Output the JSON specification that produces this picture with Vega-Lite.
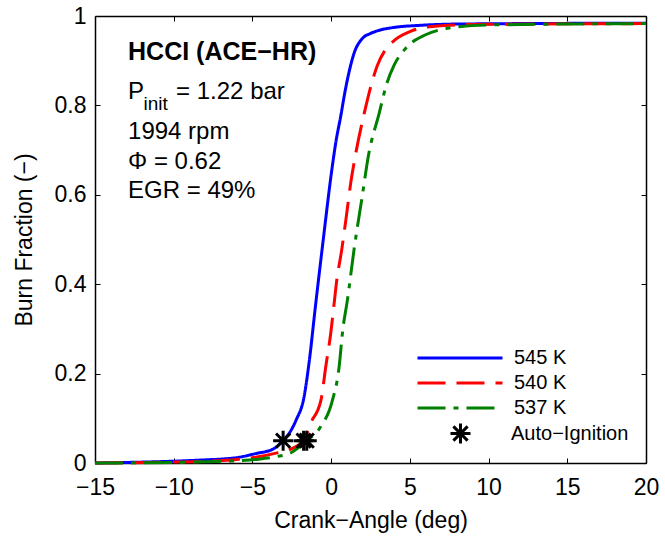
{
  "$schema": "https://vega.github.io/schema/vega-lite/v6.json",
  "width": 551,
  "height": 447,
  "autosize": "none",
  "padding": {"left": 95, "top": 16, "right": 19, "bottom": 77},
  "background": "white",
  "config": {
    "view": {"stroke": null},
    "font": "Liberation Sans",
    "axis": {
      "domainColor": "black",
      "domainWidth": 1.5,
      "tickColor": "black",
      "tickWidth": 1,
      "tickSize": -5,
      "grid": false,
      "labelFont": "Liberation Sans",
      "labelFontSize": 23,
      "labelColor": "black",
      "titleFont": "Liberation Sans",
      "titleFontSize": 23,
      "titleFontWeight": "normal",
      "titleColor": "black",
      "labelFlush": false,
      "labelOverlap": false
    },
    "legend": {
      "labelFont": "Liberation Sans",
      "labelFontSize": 20,
      "labelColor": "black",
      "padding": 0
    }
  },
  "datasets": {
    "curves": [
      {"series": "545 K", "x": -15, "y": 0.0},
      {"series": "545 K", "x": -12, "y": 0.002},
      {"series": "545 K", "x": -10, "y": 0.004},
      {"series": "545 K", "x": -8, "y": 0.007},
      {"series": "545 K", "x": -6.9, "y": 0.009},
      {"series": "545 K", "x": -6, "y": 0.012},
      {"series": "545 K", "x": -4.8, "y": 0.021},
      {"series": "545 K", "x": -3.7, "y": 0.031},
      {"series": "545 K", "x": -3.05, "y": 0.05},
      {"series": "545 K", "x": -2.6, "y": 0.07},
      {"series": "545 K", "x": -2.24, "y": 0.095},
      {"series": "545 K", "x": -1.71, "y": 0.15},
      {"series": "545 K", "x": -1.4, "y": 0.225},
      {"series": "545 K", "x": -1.0, "y": 0.35},
      {"series": "545 K", "x": -0.5, "y": 0.5},
      {"series": "545 K", "x": 0.04, "y": 0.655},
      {"series": "545 K", "x": 0.3, "y": 0.718},
      {"series": "545 K", "x": 0.62, "y": 0.778},
      {"series": "545 K", "x": 0.85, "y": 0.825},
      {"series": "545 K", "x": 1.14, "y": 0.875},
      {"series": "545 K", "x": 1.46, "y": 0.917},
      {"series": "545 K", "x": 1.99, "y": 0.95},
      {"series": "545 K", "x": 2.5, "y": 0.961},
      {"series": "545 K", "x": 3.05, "y": 0.968},
      {"series": "545 K", "x": 3.9, "y": 0.974},
      {"series": "545 K", "x": 5.6, "y": 0.979},
      {"series": "545 K", "x": 8, "y": 0.982},
      {"series": "545 K", "x": 20, "y": 0.984},
      {"series": "540 K", "x": -15, "y": 0.0},
      {"series": "540 K", "x": -10, "y": 0.002},
      {"series": "540 K", "x": -8, "y": 0.004},
      {"series": "540 K", "x": -6, "y": 0.008},
      {"series": "540 K", "x": -4.8, "y": 0.013},
      {"series": "540 K", "x": -3.5, "y": 0.022},
      {"series": "540 K", "x": -2.5, "y": 0.032},
      {"series": "540 K", "x": -1.75, "y": 0.05},
      {"series": "540 K", "x": -1.29, "y": 0.09},
      {"series": "540 K", "x": -0.65, "y": 0.14},
      {"series": "540 K", "x": -0.34, "y": 0.216},
      {"series": "540 K", "x": -0.02, "y": 0.292},
      {"series": "540 K", "x": 0.2, "y": 0.36},
      {"series": "540 K", "x": 0.34, "y": 0.404},
      {"series": "540 K", "x": 0.68, "y": 0.479},
      {"series": "540 K", "x": 0.97, "y": 0.553},
      {"series": "540 K", "x": 1.25, "y": 0.628},
      {"series": "540 K", "x": 1.55, "y": 0.69},
      {"series": "540 K", "x": 2.1, "y": 0.782},
      {"series": "540 K", "x": 2.5, "y": 0.84},
      {"series": "540 K", "x": 2.94, "y": 0.89},
      {"series": "540 K", "x": 3.4, "y": 0.922},
      {"series": "540 K", "x": 4.0, "y": 0.945},
      {"series": "540 K", "x": 5.0, "y": 0.965},
      {"series": "540 K", "x": 6.0, "y": 0.975},
      {"series": "540 K", "x": 9, "y": 0.981},
      {"series": "540 K", "x": 20, "y": 0.983},
      {"series": "537 K", "x": -15, "y": 0.0},
      {"series": "537 K", "x": -10, "y": 0.001},
      {"series": "537 K", "x": -8, "y": 0.003},
      {"series": "537 K", "x": -6, "y": 0.005},
      {"series": "537 K", "x": -4.8, "y": 0.008},
      {"series": "537 K", "x": -3.5, "y": 0.014},
      {"series": "537 K", "x": -2.5, "y": 0.024},
      {"series": "537 K", "x": -1.55, "y": 0.05},
      {"series": "537 K", "x": -0.65, "y": 0.082},
      {"series": "537 K", "x": 0.08, "y": 0.14},
      {"series": "537 K", "x": 0.51, "y": 0.216},
      {"series": "537 K", "x": 0.72, "y": 0.292},
      {"series": "537 K", "x": 1.04, "y": 0.366},
      {"series": "537 K", "x": 1.46, "y": 0.479},
      {"series": "537 K", "x": 1.95, "y": 0.591},
      {"series": "537 K", "x": 2.37, "y": 0.688},
      {"series": "537 K", "x": 3.05, "y": 0.782},
      {"series": "537 K", "x": 3.5, "y": 0.845},
      {"series": "537 K", "x": 4.0, "y": 0.89},
      {"series": "537 K", "x": 4.74, "y": 0.928},
      {"series": "537 K", "x": 6.0, "y": 0.958},
      {"series": "537 K", "x": 7.5, "y": 0.973},
      {"series": "537 K", "x": 10, "y": 0.98},
      {"series": "537 K", "x": 20, "y": 0.983}
    ],
    "ignition": [
      {"series": "545 K", "marker": "Auto−Ignition", "x": -3.05, "y": 0.05},
      {"series": "540 K", "marker": "Auto−Ignition", "x": -1.75, "y": 0.05},
      {"series": "537 K", "marker": "Auto−Ignition", "x": -1.55, "y": 0.05}
    ],
    "one": [{}]
  },
  "layer": [
    {
      "data": {"name": "curves"},
      "mark": {"type": "line", "strokeWidth": 3, "strokeCap": "butt", "interpolate": "monotone"},
      "encoding": {
        "x": {
          "field": "x", "type": "quantitative",
          "scale": {"domain": [-15, 20], "nice": false, "zero": false},
          "axis": {"orient": "bottom", "values": [-15, -10, -5, 0, 5, 10, 15, 20], "title": "Crank−Angle (deg)", "labelPadding": 18, "titlePadding": 10}
        },
        "y": {
          "field": "y", "type": "quantitative",
          "scale": {"domain": [0, 1], "nice": false},
          "axis": {"orient": "left", "values": [0, 0.2, 0.4, 0.6, 0.8, 1], "format": "~g", "title": "Burn Fraction (−)", "labelPadding": 14, "titlePadding": 18}
        },
        "color": {
          "field": "series", "type": "nominal",
          "scale": {"domain": ["545 K", "540 K", "537 K"], "range": ["#0000ff", "#ff0000", "#008000"]},
          "legend": {
            "title": null, "orient": "none", "legendX": 355, "legendY": 332,
            "symbolType": "M-8.5,0L8.5,0", "symbolSize": 100, "symbolStrokeWidth": 3,
            "labelOffset": 44, "rowPadding": 5
          }
        },
        "strokeDash": {
          "field": "series", "type": "nominal",
          "scale": {"domain": ["545 K", "540 K", "537 K"], "range": [[1, 0], [28, 11], [28, 8, 5, 8]]},
          "legend": {
            "title": null, "orient": "none", "legendX": 355, "legendY": 332,
            "symbolType": "M-8.5,0L8.5,0", "symbolSize": 100, "symbolStrokeWidth": 3,
            "labelOffset": 44, "rowPadding": 5
          }
        }
      }
    },
    {
      "data": {"name": "ignition"},
      "mark": {"type": "point", "filled": false, "stroke": "black", "strokeWidth": 3, "size": 400, "opacity": 1},
      "encoding": {
        "x": {
          "field": "x", "type": "quantitative",
          "axis": {"orient": "top", "values": [-15, -10, -5, 0, 5, 10, 15, 20], "labels": false, "title": null}
        },
        "y": {
          "field": "y", "type": "quantitative",
          "axis": {"orient": "right", "values": [0, 0.2, 0.4, 0.6, 0.8, 1], "labels": false, "title": null}
        },
        "shape": {
          "field": "marker", "type": "nominal",
          "scale": {"range": ["M-1,0L1,0M0,-1L0,1M-0.71,-0.71L0.71,0.71M-0.71,0.71L0.71,-0.71"]},
          "legend": {
            "title": null, "orient": "none", "legendX": 354, "legendY": 406,
            "symbolSize": 400, "symbolStrokeWidth": 3, "symbolStrokeColor": "black", "symbolFillColor": "transparent",
            "labelOffset": 39
          }
        }
      }
    },
    {
      "data": {"name": "one"},
      "mark": {"type": "text", "align": "left", "baseline": "alphabetic", "fontSize": 25, "fontWeight": "bold", "color": "black"},
      "encoding": {
        "x": {"datum": -12.9, "type": "quantitative", "axis": null},
        "y": {"datum": 0.9016, "type": "quantitative", "axis": null},
        "text": {"value": "HCCI (ACE−HR)"}
      }
    },
    {
      "data": {"name": "one"},
      "mark": {"type": "text", "align": "left", "baseline": "alphabetic", "fontSize": 24, "color": "black"},
      "encoding": {
        "x": {"datum": -12.9, "type": "quantitative", "axis": null},
        "y": {"datum": 0.8136, "type": "quantitative", "axis": null},
        "text": {"value": "P"}
      }
    },
    {
      "data": {"name": "one"},
      "mark": {"type": "text", "align": "left", "baseline": "alphabetic", "fontSize": 19, "color": "black"},
      "encoding": {
        "x": {"datum": -11.92, "type": "quantitative", "axis": null},
        "y": {"datum": 0.79, "type": "quantitative", "axis": null},
        "text": {"value": "init"}
      }
    },
    {
      "data": {"name": "one"},
      "mark": {"type": "text", "align": "left", "baseline": "alphabetic", "fontSize": 24, "color": "black"},
      "encoding": {
        "x": {"datum": -9.85, "type": "quantitative", "axis": null},
        "y": {"datum": 0.8136, "type": "quantitative", "axis": null},
        "text": {"value": "= 1.22 bar"}
      }
    },
    {
      "data": {"name": "one"},
      "mark": {"type": "text", "align": "left", "baseline": "alphabetic", "fontSize": 24, "color": "black"},
      "encoding": {
        "x": {"datum": -12.9, "type": "quantitative", "axis": null},
        "y": {"datum": 0.7242, "type": "quantitative", "axis": null},
        "text": {"value": "1994 rpm"}
      }
    },
    {
      "data": {"name": "one"},
      "mark": {"type": "text", "align": "left", "baseline": "alphabetic", "fontSize": 24, "color": "black"},
      "encoding": {
        "x": {"datum": -12.9, "type": "quantitative", "axis": null},
        "y": {"datum": 0.657, "type": "quantitative", "axis": null},
        "text": {"value": "Φ = 0.62"}
      }
    },
    {
      "data": {"name": "one"},
      "mark": {"type": "text", "align": "left", "baseline": "alphabetic", "fontSize": 24, "color": "black"},
      "encoding": {
        "x": {"datum": -12.9, "type": "quantitative", "axis": null},
        "y": {"datum": 0.592, "type": "quantitative", "axis": null},
        "text": {"value": "EGR = 49%"}
      }
    }
  ],
  "resolve": {"axis": {"x": "independent", "y": "independent"}}
}
